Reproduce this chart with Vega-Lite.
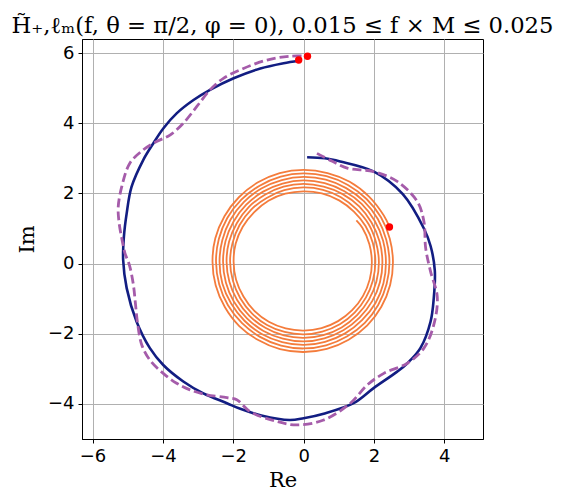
{
"$schema": "https://vega.github.io/schema/vega-lite/v6.json",
"width": 401, "height": 400,
"padding": {"left": 7, "top": 15, "right": 5, "bottom": 5},
"background": "white",
"title": {"text": "H̃₊,ℓₘ(f, θ = π/2, φ = 0),  0.015 ≤ f × M ≤ 0.025", "font": "DejaVu Serif", "fontSize": 22.7, "fontWeight": "normal", "color": "black", "anchor": "middle", "offset": 1},
"config": {
 "view": {"stroke": "black", "strokeWidth": 1},
 "axis": {"grid": true, "gridColor": "#b0b0b0", "gridWidth": 1, "domainColor": "black", "tickColor": "black", "tickSize": 4, "labelFontSize": 18, "labelFont": "DejaVu Sans", "labelColor": "black", "titleFont": "DejaVu Serif", "titleFontSize": 21, "titleFontWeight": "normal", "titleColor": "black", "labelPadding": 4}
},
"datasets": {
"blue": [
{"i":0,"x":0.10,"y":3.03},{"i":1,"x":0.60,"y":3.00},{"i":2,"x":1.04,"y":2.91},{"i":3,"x":2.00,"y":2.62},{"i":4,"x":2.82,"y":1.98},{"i":5,"x":3.42,"y":1.00},{"i":6,"x":3.61,"y":0.50},{"i":7,"x":3.73,"y":-0.20},{"i":8,"x":3.70,"y":-0.99},{"i":9,"x":3.61,"y":-1.65},{"i":10,"x":3.32,"y":-2.41},{"i":11,"x":2.95,"y":-2.84},{"i":12,"x":2.66,"y":-3.08},{"i":13,"x":1.99,"y":-3.55},{"i":14,"x":1.42,"y":-3.98},{"i":15,"x":0.57,"y":-4.28},{"i":16,"x":0.00,"y":-4.41},{"i":17,"x":-0.40,"y":-4.46},{"i":18,"x":-1.20,"y":-4.33},{"i":19,"x":-1.80,"y":-4.14},{"i":20,"x":-2.18,"y":-3.98},{"i":21,"x":-2.85,"y":-3.70},{"i":22,"x":-3.42,"y":-3.36},{"i":23,"x":-3.99,"y":-2.89},{"i":24,"x":-4.37,"y":-2.41},{"i":25,"x":-4.75,"y":-1.65},{"i":26,"x":-5.03,"y":-0.70},{"i":27,"x":-5.13,"y":0.10},{"i":28,"x":-5.11,"y":0.75},{"i":29,"x":-5.03,"y":1.43},{"i":30,"x":-4.89,"y":2.19},{"i":31,"x":-4.56,"y":2.95},{"i":32,"x":-4.27,"y":3.43},{"i":33,"x":-3.99,"y":3.85},{"i":34,"x":-3.61,"y":4.28},{"i":35,"x":-3.13,"y":4.66},{"i":36,"x":-2.66,"y":4.95},{"i":37,"x":-1.99,"y":5.28},{"i":38,"x":-1.23,"y":5.56},{"i":39,"x":-0.57,"y":5.71},{"i":40,"x":-0.14,"y":5.78}
],
"purple": [
{"i":0,"x":0.38,"y":3.14},{"i":1,"x":0.80,"y":2.92},{"i":2,"x":1.24,"y":2.72},{"i":3,"x":1.99,"y":2.62},{"i":4,"x":2.66,"y":2.34},{"i":5,"x":3.23,"y":1.77},{"i":6,"x":3.42,"y":1.20},{"i":7,"x":3.47,"y":0.44},{"i":8,"x":3.61,"y":-0.23},{"i":9,"x":3.80,"y":-0.95},{"i":10,"x":3.70,"y":-1.75},{"i":11,"x":3.42,"y":-2.41},{"i":12,"x":2.95,"y":-2.84},{"i":13,"x":2.28,"y":-3.13},{"i":14,"x":1.81,"y":-3.46},{"i":15,"x":1.33,"y":-3.98},{"i":16,"x":0.57,"y":-4.46},{"i":17,"x":-0.19,"y":-4.60},{"i":18,"x":-0.76,"y":-4.50},{"i":19,"x":-1.52,"y":-4.22},{"i":20,"x":-1.90,"y":-3.88},{"i":21,"x":-2.18,"y":-3.82},{"i":22,"x":-2.75,"y":-3.74},{"i":23,"x":-3.23,"y":-3.60},{"i":24,"x":-3.61,"y":-3.41},{"i":25,"x":-3.99,"y":-3.13},{"i":26,"x":-4.37,"y":-2.75},{"i":27,"x":-4.60,"y":-2.32},{"i":28,"x":-4.72,"y":-1.70},{"i":29,"x":-4.78,"y":-1.15},{"i":30,"x":-4.84,"y":-0.60},{"i":31,"x":-4.95,"y":-0.05},{"i":32,"x":-5.08,"y":0.30},{"i":33,"x":-5.17,"y":0.72},{"i":34,"x":-5.25,"y":1.20},{"i":35,"x":-5.27,"y":1.62},{"i":36,"x":-5.17,"y":2.19},{"i":37,"x":-4.94,"y":2.86},{"i":38,"x":-4.56,"y":3.24},{"i":39,"x":-4.18,"y":3.48},{"i":40,"x":-3.80,"y":3.66},{"i":41,"x":-3.42,"y":4.00},{"i":42,"x":-3.04,"y":4.47},{"i":43,"x":-2.66,"y":4.95},{"i":44,"x":-2.28,"y":5.28},{"i":45,"x":-1.71,"y":5.56},{"i":46,"x":-1.04,"y":5.80},{"i":47,"x":-0.38,"y":5.91},{"i":48,"x":0.10,"y":5.91}
],
"orange": [
{"i":0,"x":1.50,"y":1.23},
{"i":1,"x":1.67,"y":1.02},{"i":2,"x":1.87,"y":0.55},{"i":3,"x":1.94,"y":0.05},{"i":4,"x":1.88,"y":-0.45},{"i":5,"x":1.69,"y":-0.92},{"i":6,"x":1.38,"y":-1.33},{"i":7,"x":0.98,"y":-1.64},{"i":8,"x":0.51,"y":-1.84},{"i":9,"x":0.00,"y":-1.91},{"i":10,"x":-0.51,"y":-1.85},{"i":11,"x":-0.99,"y":-1.66},{"i":12,"x":-1.40,"y":-1.35},{"i":13,"x":-1.71,"y":-0.94},{"i":14,"x":-1.92,"y":-0.46},{"i":15,"x":-1.99,"y":0.05},{"i":16,"x":-1.93,"y":0.57},{"i":17,"x":-1.73,"y":1.05},{"i":18,"x":-1.41,"y":1.46},{"i":19,"x":-1.00,"y":1.79},{"i":20,"x":-0.52,"y":1.99},{"i":21,"x":0.00,"y":2.06},{"i":22,"x":0.52,"y":2.00},{"i":23,"x":1.01,"y":1.80},{"i":24,"x":1.43,"y":1.48},
{"i":25,"x":1.76,"y":1.07},{"i":26,"x":1.97,"y":0.58},{"i":27,"x":2.04,"y":0.05},{"i":28,"x":1.97,"y":-0.48},{"i":29,"x":1.77,"y":-0.97},{"i":30,"x":1.45,"y":-1.40},{"i":31,"x":1.03,"y":-1.73},{"i":32,"x":0.53,"y":-1.94},{"i":33,"x":0.00,"y":-2.02},{"i":34,"x":-0.54,"y":-1.95},{"i":35,"x":-1.04,"y":-1.75},{"i":36,"x":-1.47,"y":-1.42},{"i":37,"x":-1.80,"y":-0.99},{"i":38,"x":-2.01,"y":-0.49},{"i":39,"x":-2.09,"y":0.05},{"i":40,"x":-2.02,"y":0.59},{"i":41,"x":-1.82,"y":1.10},{"i":42,"x":-1.49,"y":1.54},{"i":43,"x":-1.05,"y":1.87},{"i":44,"x":-0.55,"y":2.09},{"i":45,"x":0.00,"y":2.17},{"i":46,"x":0.55,"y":2.10},{"i":47,"x":1.06,"y":1.89},{"i":48,"x":1.50,"y":1.55},
{"i":49,"x":1.85,"y":1.12},{"i":50,"x":2.06,"y":0.60},{"i":51,"x":2.14,"y":0.05},{"i":52,"x":2.07,"y":-0.51},{"i":53,"x":1.86,"y":-1.02},{"i":54,"x":1.52,"y":-1.47},{"i":55,"x":1.08,"y":-1.82},{"i":56,"x":0.56,"y":-2.04},{"i":57,"x":0.00,"y":-2.12},{"i":58,"x":-0.56,"y":-2.05},{"i":59,"x":-1.09,"y":-1.83},{"i":60,"x":-1.54,"y":-1.49},{"i":61,"x":-1.89,"y":-1.04},{"i":62,"x":-2.11,"y":-0.52},{"i":63,"x":-2.19,"y":0.05},{"i":64,"x":-2.12,"y":0.62},{"i":65,"x":-1.90,"y":1.15},{"i":66,"x":-1.56,"y":1.61},{"i":67,"x":-1.10,"y":1.96},{"i":68,"x":-0.57,"y":2.19},{"i":69,"x":0.00,"y":2.27},{"i":70,"x":0.57,"y":2.19},{"i":71,"x":1.11,"y":1.98},{"i":72,"x":1.58,"y":1.63},
{"i":73,"x":1.93,"y":1.17},{"i":74,"x":2.16,"y":0.63},{"i":75,"x":2.24,"y":0.05},{"i":76,"x":2.17,"y":-0.53},{"i":77,"x":1.95,"y":-1.07},{"i":78,"x":1.59,"y":-1.54},{"i":79,"x":1.13,"y":-1.90},{"i":80,"x":0.59,"y":-2.13},{"i":81,"x":0.00,"y":-2.22},{"i":82,"x":-0.59,"y":-2.14},{"i":83,"x":-1.14,"y":-1.92},{"i":84,"x":-1.61,"y":-1.56},{"i":85,"x":-1.98,"y":-1.09},{"i":86,"x":-2.21,"y":-0.54},{"i":87,"x":-2.29,"y":0.05},{"i":88,"x":-2.22,"y":0.64},{"i":89,"x":-1.99,"y":1.20},{"i":90,"x":-1.63,"y":1.68},{"i":91,"x":-1.15,"y":2.05},{"i":92,"x":-0.60,"y":2.28},{"i":93,"x":0.00,"y":2.37},{"i":94,"x":0.60,"y":2.29},{"i":95,"x":1.16,"y":2.06},{"i":96,"x":1.65,"y":1.70},
{"i":97,"x":2.02,"y":1.22},{"i":98,"x":2.26,"y":0.65},{"i":99,"x":2.34,"y":0.05},{"i":100,"x":2.27,"y":-0.56},{"i":101,"x":2.04,"y":-1.13},{"i":102,"x":1.66,"y":-1.61},{"i":103,"x":1.18,"y":-1.99},{"i":104,"x":0.61,"y":-2.23},{"i":105,"x":0.00,"y":-2.32},{"i":106,"x":-0.61,"y":-2.24},{"i":107,"x":-1.19,"y":-2.01},{"i":108,"x":-1.68,"y":-1.63},{"i":109,"x":-2.06,"y":-1.14},{"i":110,"x":-2.31,"y":-0.57},{"i":111,"x":-2.39,"y":0.05},{"i":112,"x":-2.31,"y":0.67},{"i":113,"x":-2.08,"y":1.25},{"i":114,"x":-1.70,"y":1.75},{"i":115,"x":-1.20,"y":2.14},{"i":116,"x":-0.62,"y":2.38},{"i":117,"x":0.00,"y":2.47},{"i":118,"x":0.63,"y":2.39},{"i":119,"x":1.21,"y":2.15},{"i":120,"x":1.72,"y":1.77},
{"i":121,"x":2.11,"y":1.27},{"i":122,"x":2.35,"y":0.68},{"i":123,"x":2.44,"y":0.05},{"i":124,"x":2.36,"y":-0.58},{"i":125,"x":2.12,"y":-1.18},{"i":126,"x":1.74,"y":-1.69},{"i":127,"x":1.23,"y":-2.08},{"i":128,"x":0.64,"y":-2.33},{"i":129,"x":0.00,"y":-2.42},{"i":130,"x":-0.64,"y":-2.34},{"i":131,"x":-1.24,"y":-2.09},{"i":132,"x":-1.75,"y":-1.70},{"i":133,"x":-2.15,"y":-1.19},{"i":134,"x":-2.40,"y":-0.59},{"i":135,"x":-2.49,"y":0.05},{"i":136,"x":-2.41,"y":0.70},{"i":137,"x":-2.17,"y":1.30},{"i":138,"x":-1.77,"y":1.82},{"i":139,"x":-1.25,"y":2.22},{"i":140,"x":-0.65,"y":2.48},{"i":141,"x":0.00,"y":2.57},{"i":142,"x":0.65,"y":2.49},{"i":143,"x":1.26,"y":2.24},{"i":144,"x":1.79,"y":1.84},
{"i":145,"x":2.20,"y":1.32},{"i":146,"x":2.45,"y":0.71},{"i":147,"x":2.54,"y":0.05},{"i":148,"x":2.46,"y":-0.61},{"i":149,"x":2.21,"y":-1.23},{"i":150,"x":1.81,"y":-1.76},{"i":151,"x":1.28,"y":-2.17},{"i":152,"x":0.66,"y":-2.43},{"i":153,"x":0.00,"y":-2.52},{"i":154,"x":-0.67,"y":-2.44},{"i":155,"x":-1.29,"y":-2.18},{"i":156,"x":-1.83,"y":-1.78},{"i":157,"x":-2.24,"y":-1.24},{"i":158,"x":-2.50,"y":-0.62},{"i":159,"x":-2.59,"y":0.05},{"i":160,"x":-2.51,"y":0.72},{"i":161,"x":-2.25,"y":1.35},{"i":162,"x":-1.84,"y":1.89},{"i":163,"x":-1.31,"y":2.31},{"i":164,"x":-0.68,"y":2.58},{"i":165,"x":0.00,"y":2.67},{"i":166,"x":0.68,"y":2.58},{"i":167,"x":1.31,"y":2.33},{"i":168,"x":1.86,"y":1.91},
{"i":169,"x":2.28,"y":1.37},{"i":170,"x":2.44,"y":1.05}
],
"dots": [
{"x":-0.14,"y":5.80},{"x":0.11,"y":5.91},{"x":2.44,"y":1.04}
]
},
"layer": [
{"data": {"name": "blue"}, "mark": {"type": "line", "color": "#121d82", "strokeWidth": 2.6, "interpolate": "catmull-rom"},
 "encoding": {
  "x": {"field": "x", "type": "quantitative", "scale": {"domain": [-6.3, 5.1], "nice": false, "zero": false}, "axis": {"title": "Re", "values": [-6,-4,-2,0,2,4]}},
  "y": {"field": "y", "type": "quantitative", "scale": {"domain": [-5.0, 6.4], "nice": false, "zero": false}, "axis": {"title": "Im", "values": [-4,-2,0,2,4,6], "titlePadding": 10}},
  "order": {"field": "i", "type": "quantitative"}}},
{"data": {"name": "purple"}, "mark": {"type": "line", "color": "#a55caa", "strokeWidth": 2.8, "strokeDash": [9, 4], "interpolate": "catmull-rom"},
 "encoding": {"x": {"field": "x", "type": "quantitative"}, "y": {"field": "y", "type": "quantitative"}, "order": {"field": "i", "type": "quantitative"}}},
{"data": {"name": "orange"}, "mark": {"type": "line", "color": "#f47c3c", "strokeWidth": 1.8, "interpolate": "catmull-rom"},
 "encoding": {"x": {"field": "x", "type": "quantitative"}, "y": {"field": "y", "type": "quantitative"}, "order": {"field": "i", "type": "quantitative"}}},
{"data": {"name": "dots"}, "mark": {"type": "point", "filled": true, "color": "#ff0000", "size": 55, "opacity": 1},
 "encoding": {"x": {"field": "x", "type": "quantitative"}, "y": {"field": "y", "type": "quantitative"}}}
]
}
